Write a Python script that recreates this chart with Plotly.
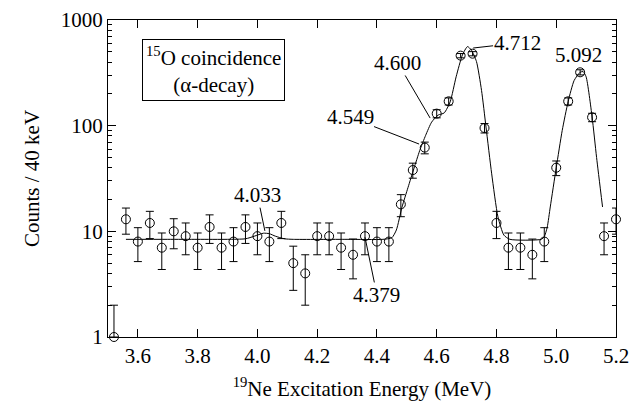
import math
import plotly.graph_objects as go

# 19Ne excitation energy bins (MeV) and counts per 40 keV
energy = [3.52, 3.56, 3.60, 3.64, 3.68, 3.72, 3.76, 3.80, 3.84, 3.88,
          3.92, 3.96, 4.00, 4.04, 4.08, 4.12, 4.16, 4.20, 4.24, 4.28,
          4.32, 4.36, 4.40, 4.44, 4.48, 4.52, 4.56, 4.60, 4.64, 4.68,
          4.72, 4.76, 4.80, 4.84, 4.88, 4.92, 4.96, 5.00, 5.04, 5.08,
          5.12, 5.16, 5.20]
counts = [1, 13, 8, 12, 7, 10, 9, 7, 11, 7,
          8, 11, 9, 8, 12, 5, 4, 9, 9, 7,
          6, 9, 8, 8, 18, 38, 62, 130, 170, 460,
          480, 95, 12, 7, 7, 6, 8, 40, 170, 320,
          120, 9, 13]

# fit curve
fit_e = [3.56, 3.70, 3.80, 3.90, 3.96, 3.99, 4.02, 4.04, 4.06, 4.09,
         4.12, 4.30, 4.42, 4.45, 4.465, 4.484, 4.504, 4.524, 4.543, 4.563,
         4.583, 4.605, 4.625, 4.645, 4.665, 4.686, 4.703, 4.716, 4.733, 4.75,
         4.765, 4.784, 4.805, 4.825, 4.845, 4.95, 4.96, 4.97, 4.98, 5.00,
         5.02, 5.04, 5.06, 5.08, 5.09, 5.10, 5.12, 5.135, 5.155]
fit_c = [8.4, 8.4, 8.4, 8.4, 8.5, 9.0, 9.6, 9.5, 9.0, 8.5,
         8.4, 8.4, 8.4, 8.7, 10.3, 17, 26, 39.5, 58, 81,
         108, 126, 132, 168, 290, 466, 560, 520, 405, 216,
         97, 35, 13.7, 9.2, 8.4, 8.4, 8.9, 11, 17, 40,
         90, 170, 268, 320, 325, 290, 121, 50, 17]

# state labels: text, text position, leader-line end
labels = ["4.033", "4.379", "4.549", "4.600", "4.712", "5.092"]
label_x = [4.00, 4.40, 4.31, 4.47, 4.869, 5.073]
label_y = [22, 2.5, 120, 392, 605, 467]
head_x = [4.025, 4.36, 4.541, 4.578, 4.722, None]
head_y = [10.1, 8.8, 67, 118, 543, None]

err_up = [c ** 0.5 for c in counts]
err_dn = [0 if c <= 1 else c ** 0.5 for c in counts]

FONT = "Liberation Serif, Times New Roman, serif"

fig = go.Figure()

fig.add_trace(go.Scatter(
    x=fit_e, y=fit_c, mode="lines",
    line=dict(color="black", width=1, shape="spline", smoothing=0.6),
    hoverinfo="skip"
))

fig.add_trace(go.Scatter(
    x=energy, y=counts, mode="markers", cliponaxis=False,
    marker=dict(symbol="circle-open", size=9, color="black",
                line=dict(width=1, color="black")),
    error_y=dict(type="data", symmetric=False, array=err_up,
                 arrayminus=err_dn, color="black", thickness=1, width=4)
))

for txt, lx, ly, hx, hy in zip(labels, label_x, label_y, head_x, head_y):
    if hx is None:
        fig.add_annotation(x=lx, y=math.log10(ly), text=txt,
                           xanchor="center", yanchor="middle",
                           showarrow=False, font=dict(size=21))
    else:
        fig.add_annotation(x=hx, y=math.log10(hy), ax=lx, ay=math.log10(ly),
                           axref="x", ayref="y", text=txt, showarrow=True,
                           arrowhead=0, arrowwidth=1, arrowcolor="black",
                           standoff=0, startstandoff=0, borderpad=0,
                           font=dict(size=21))

fig.add_annotation(
    xref="paper", yref="paper", x=0.207, y=0.842,
    xanchor="center", yanchor="middle",
    text="<sup>15</sup>O coincidence<br>(α-decay)",
    showarrow=False, bordercolor="black", borderwidth=1, borderpad=3,
    font=dict(size=21), align="center"
)

fig.update_xaxes(
    range=[3.5, 5.2], dtick=0.2, tickformat=".1f",
    ticks="inside", ticklen=8, tickcolor="black",
    showline=True, linecolor="black", linewidth=1, mirror="ticks",
    showgrid=False, zeroline=False, automargin=False,
    tickfont=dict(size=21),
    title=dict(text="<sup>19</sup>Ne Excitation Energy (MeV)",
               font=dict(size=21))
)
fig.update_yaxes(
    type="log", range=[0, 3],
    tickvals=[1, 10, 100, 1000], ticktext=["1", "10", "100", "1000"],
    ticks="inside", ticklen=8, tickcolor="black",
    minor=dict(ticks="inside", ticklen=4, tickcolor="black",
               tickvals=[m * d for d in (1, 10, 100) for m in range(2, 10)]),
    showline=True, linecolor="black", linewidth=1, mirror="ticks",
    showgrid=False, zeroline=False, automargin=False,
    tickfont=dict(size=21),
    title=dict(text="Counts / 40 keV", font=dict(size=21))
)

# page body adds an 8px offset, so the figure is a little smaller
fig.update_layout(
    width=631, height=393,
    margin=dict(l=100, r=23, t=12, b=64),
    paper_bgcolor="white", plot_bgcolor="white",
    font=dict(family=FONT, color="black"),
    showlegend=False
)

fig.write_html("out.html")
